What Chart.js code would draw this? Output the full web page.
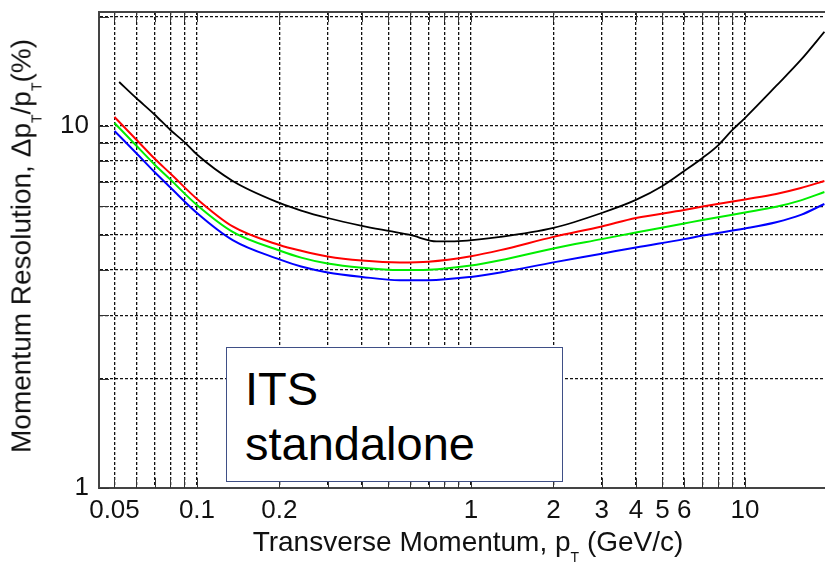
<!DOCTYPE html>
<html lang="en">
<head>
    <meta charset="UTF-8">
    <title>ITS standalone momentum resolution</title>
    <script src="https://cdn.jsdelivr.net/npm/chart.js"></script>
    <style>
        body { margin: 0; background: #fff; font-family: "Liberation Sans", Arial, sans-serif; }
        .wrap { position: relative; width: 825px; height: 564px; overflow: hidden; }
        .chart-container { position: absolute; left: 0; top: 0; width: 825px; height: 564px; }
        .ytitle { position: absolute; left: 22px; top: 246px; font-size: 28px; line-height: 28px; color: #111;
                  white-space: nowrap; transform: translate(-50%, -50%) rotate(-90deg); }
        .xtitle { position: absolute; left: 468px; top: 528px; font-size: 28px; line-height: 28px; color: #111;
                  white-space: nowrap; transform: translateX(-50%); }
        .ytitle sub, .xtitle sub { font-size: 14px; vertical-align: -11px; line-height: 0; }
        .label-box { position: absolute; left: 226px; top: 347px; width: 317px; height: 120px;
                     border: 1px solid #3f4f86; background: #fff; padding: 13px 0 0 18px;
                     font-size: 47px; line-height: 55px; color: #000; box-sizing: content-box; }
    </style>
</head>
<body>
<div class="wrap">
    <div class="chart-container">
        <canvas id="resChart"></canvas>
    </div>
    <div class="ytitle">Momentum Resolution, &Delta;p<sub>T</sub>/p<sub>T</sub>(%)</div>
    <div class="xtitle">Transverse Momentum, p<sub>T</sub> (GeV/c)</div>
    <div class="label-box">ITS<br>standalone</div>
</div>

<script>
    // pT values (GeV/c) and resolution (%) for each curve
    const ptBlack  = [0.052, 0.06, 0.07, 0.08, 0.09, 0.1, 0.135, 0.2, 0.24, 0.3, 0.4, 0.5, 0.6, 0.75, 0.9, 1.28, 2, 3, 4, 5, 6, 7, 8, 9, 10, 13, 16, 19.5];
    const resBlack = [13.23, 11.95, 10.76, 9.75, 9.03, 8.34, 7.05, 6.13, 5.84, 5.57, 5.30, 5.13, 5.00, 4.80, 4.81, 4.94, 5.23, 5.75, 6.25, 6.83, 7.51, 8.16, 8.86, 9.75, 10.52, 12.9, 15.22, 18.2];

    const ptColor  = [0.05, 0.06, 0.07, 0.08, 0.1, 0.135, 0.2, 0.24, 0.3, 0.4, 0.55, 0.7, 1.0, 1.28, 2, 3, 4, 6, 7, 10, 13, 16, 19.5];
    const resRed   = [10.59, 9.18, 8.13, 7.39, 6.29, 5.28, 4.69, 4.52, 4.36, 4.25, 4.20, 4.22, 4.37, 4.54, 4.94, 5.28, 5.57, 5.86, 5.99, 6.27, 6.49, 6.74, 7.05];
    const resGreen = [10.19, 8.83, 7.83, 7.11, 6.05, 5.10, 4.53, 4.33, 4.17, 4.06, 4.00, 4.01, 4.12, 4.26, 4.59, 4.87, 5.08, 5.38, 5.50, 5.77, 5.98, 6.23, 6.57];
    const resBlue  = [9.69, 8.42, 7.46, 6.76, 5.75, 4.84, 4.28, 4.09, 3.94, 3.83, 3.75, 3.75, 3.83, 3.94, 4.20, 4.44, 4.62, 4.87, 4.98, 5.21, 5.42, 5.68, 6.09];

    // grid lines and the ones that get a label
    const xGrid   = [0.05, 0.06, 0.07, 0.08, 0.09, 0.1, 0.2, 0.3, 0.4, 0.5, 0.6, 0.7, 0.8, 0.9, 1, 2, 3, 4, 5, 6, 7, 8, 9, 10];
    const xLabels = [0.05, 0.1, 0.2, 1, 2, 3, 4, 5, 6, 10];
    const yGrid   = [1, 2, 3, 4, 5, 6, 7, 8, 9, 10, 20];
    const yLabels = [1, 10];

    function toPoints(xs, ys) {
        return xs.map((x, i) => ({ x: x, y: ys[i] }));
    }

    function curve(xs, ys, color, width) {
        return {
            data: toPoints(xs, ys),
            borderColor: color,
            borderWidth: width,
            pointRadius: 0,
            fill: false,
            cubicInterpolationMode: 'monotone'
        };
    }

    // solid inner tick marks plus the top frame line
    const frameTicks = {
        id: 'frameTicks',
        beforeDatasetsDraw(chart) {
            const { ctx, chartArea: a, scales } = chart;
            ctx.save();
            ctx.strokeStyle = '#333';
            ctx.lineWidth = 1;
            ctx.beginPath();
            xGrid.forEach(v => {
                const px = Math.round(scales.x.getPixelForValue(v)) + 0.5;
                ctx.moveTo(px, a.bottom); ctx.lineTo(px, a.bottom - 10);
                ctx.moveTo(px, a.top);    ctx.lineTo(px, a.top + 10);
            });
            yGrid.forEach(v => {
                const py = Math.round(scales.y.getPixelForValue(v)) + 0.5;
                ctx.moveTo(a.left, py); ctx.lineTo(a.left + 10, py);
            });
            ctx.stroke();
            ctx.lineWidth = 2;
            ctx.strokeStyle = '#444';
            ctx.beginPath();
            ctx.moveTo(a.left, a.top); ctx.lineTo(a.right, a.top);
            ctx.stroke();
            ctx.restore();
        }
    };

    const tickFont = { family: '"Liberation Sans", Arial, sans-serif', size: 26 };
    const gridOpts = { color: '#111', lineWidth: 1.3, drawTicks: false };

    const ctx = document.getElementById('resChart').getContext('2d');
    const resChart = new Chart(ctx, {
        type: 'line',
        data: {
            datasets: [
                curve(ptColor, resBlue, '#0000ff', 2),
                curve(ptColor, resGreen, '#00ee00', 2),
                curve(ptColor, resRed, '#ff0000', 2),
                curve(ptBlack, resBlack, '#000000', 1.8)
            ]
        },
        options: {
            responsive: true,
            maintainAspectRatio: false,
            animation: false,
            layout: { padding: { top: 12, right: 0, left: 0, bottom: 0 } },
            plugins: { legend: { display: false }, tooltip: { enabled: false } },
            scales: {
                x: {
                    type: 'logarithmic',
                    min: 0.0439,
                    max: 19.6,
                    afterFit: s => { s.height = 76; s.paddingLeft = 0; s.paddingRight = 0; },
                    afterBuildTicks: s => { s.ticks = xGrid.map(v => ({ value: v })); },
                    grid: gridOpts,
                    border: { display: true, color: '#444', width: 2, dash: [3, 2] },
                    ticks: {
                        autoSkip: false, maxRotation: 0, padding: 7,
                        color: '#111', font: tickFont,
                        callback: v => xLabels.includes(v) ? String(v) : ''
                    }
                },
                y: {
                    type: 'logarithmic',
                    min: 1,
                    max: 20.65,
                    afterFit: s => { s.width = 99; s.paddingTop = 0; s.paddingBottom = 0; },
                    afterBuildTicks: s => { s.ticks = yGrid.map(v => ({ value: v })); },
                    grid: gridOpts,
                    border: { display: true, color: '#444', width: 2, dash: [3, 2] },
                    ticks: {
                        autoSkip: false, padding: 10,
                        color: '#111', font: tickFont,
                        callback: v => yLabels.includes(v) ? String(v) : ''
                    }
                }
            }
        },
        plugins: [frameTicks]
    });
</script>
</body>
</html>
